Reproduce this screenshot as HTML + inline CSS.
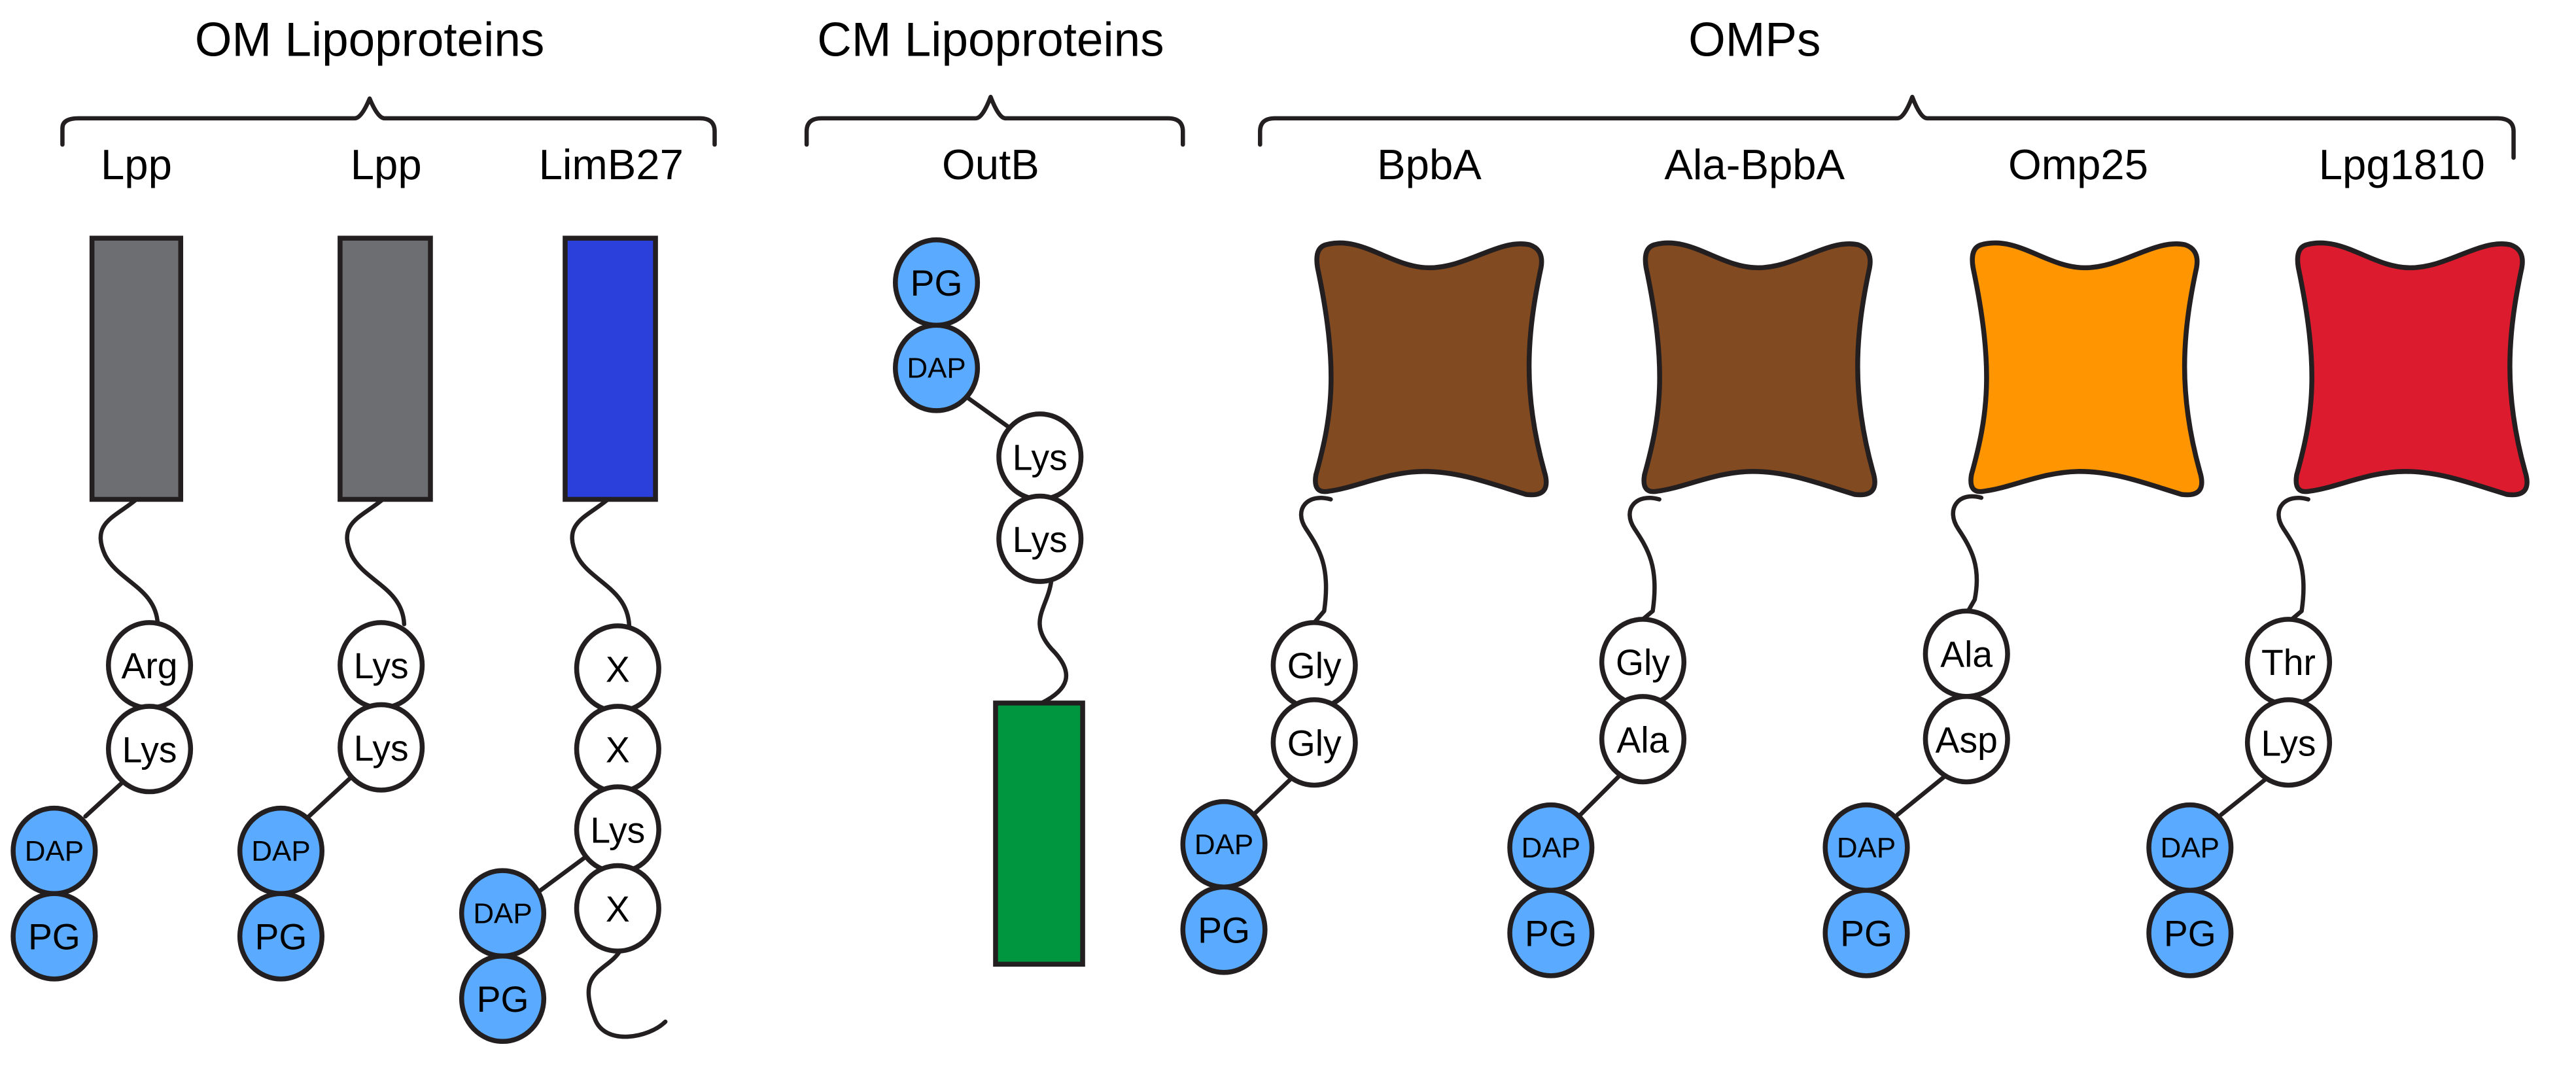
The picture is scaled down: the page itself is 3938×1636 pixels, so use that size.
<!DOCTYPE html>
<html><head><meta charset="utf-8"><style>
html,body{margin:0;padding:0;background:#fff;}
svg{display:block;}
text{font-family:"Liberation Sans",sans-serif;fill:#000;text-anchor:middle;}
</style></head><body>
<svg width="3938" height="1636" viewBox="0 0 1568 651.4" xmlns="http://www.w3.org/2000/svg">
<defs>
<path id="omp" d="M8,4 C30,-2 48,18 71,18 C94,18 114,0 132,4 Q141,7 139,18 C130,60 128,95 141,142 Q146,158 130,156 C110,150 90,142 68,142 C46,142 26,152 10,154 Q0,156 2,144 C12,108 16,80 3,18 Q1,6 8,4 Z" stroke="#231f20" stroke-width="3"/>
</defs>
<g fill="none" stroke="#231f20" stroke-width="2.6" stroke-linecap="round" stroke-linejoin="round">
<path d="M38,88 V78 Q38,72 48,72 H216 Q220,72 225,60 Q230,72 234,72 H426 Q435,72 435,80 V88"/>
<path d="M491,88 V80 Q491,72 500,72 H594 Q598,72 603,59 Q608,72 612,72 H711 Q720,72 720,80 V88"/>
<path d="M767,88 V80 Q767,72 776,72 H1155 Q1159,72 1164,59 Q1169,72 1173,72 H1520 Q1530,72 1530,80 V96"/>
<path d="M83,304 C70,315 55,318 64,338 C72,354 95,358 96,380"/>
<line x1="76" y1="475" x2="52" y2="497"/>
<path d="M233,304 C220,315 205,318 214,338 C222,354 245,358 246,380"/>
<line x1="215" y1="472" x2="188" y2="497"/>
<path d="M370,304 C357,315 342,318 351,338 C359,354 382,358 383,381"/>
<line x1="356" y1="522" x2="325" y2="545"/>
<path d="M378,578 C370,592 350,590 362,620 C368,637 395,632 405,622"/>
<line x1="586" y1="240" x2="614" y2="260"/>
<path d="M640,353 C638,370 625,378 640,395 C655,410 650,420 634,428"/>
<path d="M810,304 C796,300 787,310 795,322 C803,334 810,345 806,372 L800,379"/>
<line x1="788" y1="472" x2="764" y2="495"/>
<path d="M1010,304 C996,300 987,310 995,322 C1003,334 1010,345 1006,372 L1000,377"/>
<line x1="988" y1="470" x2="962" y2="496"/>
<path d="M1206,303 C1192,299 1184,310 1192,322 C1200,334 1206,345 1202,365 L1198,372"/>
<line x1="1187" y1="470" x2="1155" y2="496"/>
<path d="M1405,304 C1391,300 1382,310 1390,322 C1398,334 1405,345 1401,372 L1395,377"/>
<line x1="1382" y1="472" x2="1352" y2="496"/>
</g>
<text x="225" y="34" font-size="29">OM Lipoproteins</text>
<text x="603" y="34" font-size="29">CM Lipoproteins</text>
<text x="1068" y="34" font-size="29">OMPs</text>
<g font-size="26">
<text x="83" y="109">Lpp</text><text x="235" y="109">Lpp</text><text x="372" y="109">LimB27</text>
<text x="603" y="109">OutB</text><text x="870" y="109">BpbA</text><text x="1068" y="109">Ala-BpbA</text>
<text x="1265" y="109">Omp25</text><text x="1462" y="109">Lpg1810</text>
</g>
<g stroke="#231f20" stroke-width="3">
<rect x="56" y="145" width="54" height="159" fill="#6d6e71"/>
<rect x="207" y="145" width="55" height="159" fill="#6d6e71"/>
<rect x="344" y="145" width="55" height="159" fill="#2b3fdb"/>
<rect x="606" y="428" width="53" height="159" fill="#009640"/>
</g>
<use href="#omp" x="799" y="145" fill="#814a21"/>
<use href="#omp" x="999" y="145" fill="#814a21"/>
<use href="#omp" x="1198" y="145" fill="#ff9500"/>
<use href="#omp" x="1396" y="145" fill="#dc1c2e"/>
<g stroke="#231f20" stroke-width="3">
<g fill="#fff">
<ellipse cx="91" cy="405" rx="25" ry="26"/><ellipse cx="91" cy="456" rx="25" ry="26"/>
<ellipse cx="232" cy="405" rx="25" ry="26"/><ellipse cx="232" cy="455" rx="25" ry="26"/>
<ellipse cx="376" cy="407" rx="25" ry="26"/><ellipse cx="376" cy="456" rx="25" ry="26"/>
<ellipse cx="376" cy="505" rx="25" ry="26"/><ellipse cx="376" cy="553" rx="25" ry="26"/>
<ellipse cx="633" cy="278" rx="25" ry="26"/><ellipse cx="633" cy="328" rx="25" ry="26"/>
<ellipse cx="800" cy="405" rx="25" ry="26"/><ellipse cx="800" cy="452" rx="25" ry="26"/>
<ellipse cx="1000" cy="403" rx="25" ry="26"/><ellipse cx="1000" cy="450" rx="25" ry="26"/>
<ellipse cx="1197" cy="398" rx="25" ry="26"/><ellipse cx="1197" cy="450" rx="25" ry="26"/>
<ellipse cx="1393" cy="403" rx="25" ry="26"/><ellipse cx="1393" cy="452" rx="25" ry="26"/>
</g>
<g fill="#5aaaff">
<ellipse cx="33" cy="518" rx="25" ry="26"/><ellipse cx="33" cy="570" rx="25" ry="26"/>
<ellipse cx="171" cy="518" rx="25" ry="26"/><ellipse cx="171" cy="570" rx="25" ry="26"/>
<ellipse cx="306" cy="556" rx="25" ry="26"/><ellipse cx="306" cy="608" rx="25" ry="26"/>
<ellipse cx="570" cy="172" rx="25" ry="26"/><ellipse cx="570" cy="224" rx="25" ry="26"/>
<ellipse cx="745" cy="514" rx="25" ry="26"/><ellipse cx="745" cy="566" rx="25" ry="26"/>
<ellipse cx="944" cy="516" rx="25" ry="26"/><ellipse cx="944" cy="568" rx="25" ry="26"/>
<ellipse cx="1136" cy="516" rx="25" ry="26"/><ellipse cx="1136" cy="568" rx="25" ry="26"/>
<ellipse cx="1333" cy="516" rx="25" ry="26"/><ellipse cx="1333" cy="568" rx="25" ry="26"/>
</g>
</g>
<g font-size="22">
<text x="91" y="413">Arg</text><text x="91" y="464">Lys</text>
<text x="232" y="413">Lys</text><text x="232" y="463">Lys</text>
<text x="376" y="415">X</text><text x="376" y="464">X</text><text x="376" y="513">Lys</text><text x="376" y="561">X</text>
<text x="633" y="286">Lys</text><text x="633" y="336">Lys</text>
<text x="800" y="413">Gly</text><text x="800" y="460">Gly</text>
<text x="1000" y="411">Gly</text><text x="1000" y="458">Ala</text>
<text x="1197" y="406">Ala</text><text x="1197" y="458">Asp</text>
<text x="1393" y="411">Thr</text><text x="1393" y="460">Lys</text>
<text x="33" y="578">PG</text><text x="171" y="578">PG</text><text x="306" y="616">PG</text>
<text x="570" y="180">PG</text><text x="745" y="574">PG</text><text x="944" y="576">PG</text>
<text x="1136" y="576">PG</text><text x="1333" y="576">PG</text>
</g>
<g font-size="17.5">
<text x="33" y="524">DAP</text><text x="171" y="524">DAP</text><text x="306" y="562">DAP</text>
<text x="570" y="230">DAP</text><text x="745" y="520">DAP</text><text x="944" y="522">DAP</text>
<text x="1136" y="522">DAP</text><text x="1333" y="522">DAP</text>
</g>
</svg>
</body></html>
